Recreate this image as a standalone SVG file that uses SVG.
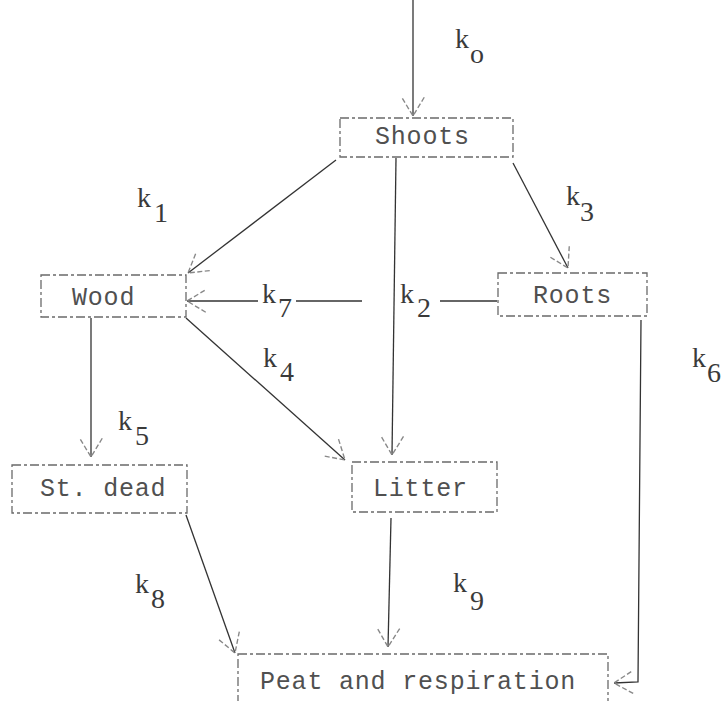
<svg xmlns="http://www.w3.org/2000/svg" width="722" height="701" viewBox="0 0 722 701">
  <style>
    .box { fill: none; stroke: #6a6a6a; stroke-width: 1.3; stroke-dasharray: 9 3 3 3; }
    .name { font-family: "Liberation Mono", "DejaVu Sans Mono", monospace; font-size: 25px; letter-spacing: 0.8px; fill: #505050; }
    .rate { font-family: "Liberation Serif", "DejaVu Serif", serif; font-size: 28px; fill: #3a3a3a; }
    .flow { fill: none; stroke: #333; stroke-width: 1.3; }
  </style>
  <defs>
    <marker id="head" markerUnits="userSpaceOnUse" markerWidth="30" markerHeight="30" viewBox="-18 -12 22 24" refX="0" refY="0" orient="auto">
      <path d="M-15,-9 L0,0 L-15,9" fill="none" stroke="#888" stroke-width="1.1" stroke-dasharray="4 2"/>
    </marker>
  </defs>

  <!-- flows between pools -->
  <g id="connectors">
    <line class="flow" x1="413" y1="0" x2="413" y2="116" marker-end="url(#head)"/>
    <line class="flow" x1="336" y1="160" x2="188" y2="273" marker-end="url(#head)"/>
    <line class="flow" x1="396" y1="158" x2="392" y2="455" marker-end="url(#head)"/>
    <line class="flow" x1="513" y1="163" x2="568" y2="268" marker-end="url(#head)"/>
    <!-- Roots to Wood, broken by the k2 and k7 labels -->
    <line class="flow" x1="497" y1="301" x2="440" y2="301"/>
    <line class="flow" x1="362" y1="301" x2="296" y2="301"/>
    <line class="flow" x1="258" y1="301" x2="187" y2="301" marker-end="url(#head)"/>
    <line class="flow" x1="91" y1="318" x2="91" y2="457" marker-end="url(#head)"/>
    <line class="flow" x1="186" y1="318" x2="345" y2="460" marker-end="url(#head)"/>
    <line class="flow" x1="186" y1="515" x2="235" y2="653" marker-end="url(#head)"/>
    <line class="flow" x1="391" y1="518" x2="388" y2="647" marker-end="url(#head)"/>
    <polyline class="flow" points="641,320 638,682 614,683" marker-end="url(#head)"/>
  </g>

  <g id="shoots">
    <rect class="box" x="340" y="118" width="173" height="39"/>
    <text class="name" x="375" y="144">Shoots</text>
  </g>
  <g id="wood">
    <rect class="box" x="41" y="275" width="145" height="42"/>
    <text class="name" x="72" y="305">Wood</text>
  </g>
  <g id="roots">
    <rect class="box" x="498" y="273" width="149" height="43"/>
    <text class="name" x="533" y="303">Roots</text>
  </g>
  <g id="st-dead">
    <rect class="box" x="12" y="465" width="175" height="48"/>
    <text class="name" x="40" y="496">St. dead</text>
  </g>
  <g id="litter">
    <rect class="box" x="352" y="462" width="145" height="50"/>
    <text class="name" x="373" y="496">Litter</text>
  </g>
  <g id="peat">
    <rect class="box" x="238" y="654" width="370" height="60"/>
    <text class="name" x="260" y="689">Peat and respiration</text>
  </g>

  <!-- rate constants -->
  <g id="rates">
    <text class="rate" x="455" y="48">k<tspan dx="1" dy="15">o</tspan></text>
    <text class="rate" x="137" y="207">k<tspan dx="3" dy="15">1</tspan></text>
    <text class="rate" x="566" y="205">k<tspan dx="0" dy="16">3</tspan></text>
    <text class="rate" x="262" y="303">k<tspan dx="2" dy="14">7</tspan></text>
    <text class="rate" x="400" y="303">k<tspan dx="3" dy="14">2</tspan></text>
    <text class="rate" x="263" y="367">k<tspan dx="3" dy="14">4</tspan></text>
    <text class="rate" x="118" y="430">k<tspan dx="3" dy="15">5</tspan></text>
    <text class="rate" x="692" y="367">k<tspan dx="1" dy="15">6</tspan></text>
    <text class="rate" x="135" y="593">k<tspan dx="2" dy="15">8</tspan></text>
    <text class="rate" x="453" y="592">k<tspan dx="3" dy="18">9</tspan></text>
  </g>
</svg>
